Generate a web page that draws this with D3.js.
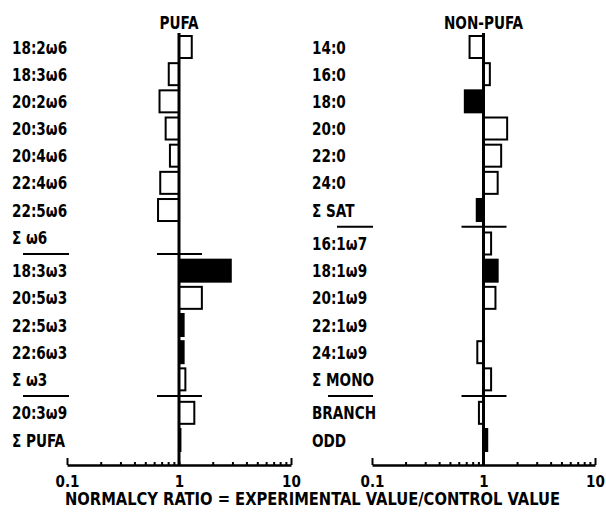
<!DOCTYPE html>
<html>
<head>
<meta charset="utf-8">
<script src="https://cdn.jsdelivr.net/npm/d3@7"></script>
<style>
  body { margin: 0; background: white; }
  svg text { font-family: "DejaVu Sans Condensed", "DejaVu Sans", sans-serif; font-weight: bold; fill: black; }
</style>
</head>
<body>
<div id="chart"></div>
<script>
// PUFA panel
var pufaLabels  = ["18:2ω6", "18:3ω6", "20:2ω6", "20:3ω6", "20:4ω6", "22:4ω6", "22:5ω6", "Σ ω6",
                   "18:3ω3", "20:5ω3", "22:5ω3", "22:6ω3", "Σ ω3", "20:3ω9", "Σ PUFA"];
var pufaValues  = [1.30, 0.81, 0.67, 0.76, 0.83, 0.68, 0.65, 1.0, 2.9, 1.6, 1.1, 1.1, 1.14, 1.37, 1.03];
var pufaFilled  = [0, 0, 0, 0, 0, 0, 0, 0, 1, 0, 1, 1, 0, 0, 1];
var pufaBreaks  = [7, 12];

// NON-PUFA panel
var nonPufaLabels = ["14:0", "16:0", "18:0", "20:0", "22:0", "24:0", "Σ SAT",
                     "16:1ω7", "18:1ω9", "20:1ω9", "22:1ω9", "24:1ω9", "Σ MONO", "BRANCH", "ODD"];
var nonPufaValues = [0.75, 1.14, 0.68, 1.63, 1.44, 1.34, 0.87, 1.17, 1.34, 1.28, 1.0, 0.88, 1.17, 0.91, 1.08];
var nonPufaFilled = [0, 0, 1, 0, 0, 0, 1, 0, 1, 0, 0, 0, 0, 0, 1];
var nonPufaBreaks = [6, 12];

var tickValues = [0.1, 0.2, 0.3, 0.4, 0.5, 0.6, 0.7, 0.8, 0.9, 1, 2, 3, 4, 5, 6, 7, 8, 9, 10];
var tickLabels = [0.1, 1, 10];
var xTitle = "NORMALCY RATIO = EXPERIMENTAL VALUE/CONTROL VALUE";

var svg = d3.select("#chart")
  .append("svg")
  .attr("width", 606)
  .attr("height", 512);

// slot = row index plus a little room for each separator above it
var breakGap = 0.232;
function slotOf(i, breaks) {
  return i + breakGap * breaks.filter(function(b) { return b < i; }).length;
}

var y = d3.scaleLinear()
  .domain([0, 14 + 2 * breakGap])
  .range([47, 440]);

var barH = 22;
var axisY = 465;
var squeeze = 0.84;   // the plotter lettering is narrower than the installed fonts

function narrow(sel) {
  sel.each(function() {
    var w = this.getComputedTextLength();
    d3.select(this)
      .attr("textLength", w * squeeze)
      .attr("lengthAdjust", "spacingAndGlyphs");
  });
}

function makePanel(cfg) {
  var x = d3.scaleLog().domain([0.1, 10]).range([cfg.x0, cfg.x1]);
  var g = svg.append("g");
  var rows = cfg.labels.map(function(d, i) {
    return { label: d, value: cfg.values[i], filled: cfg.filled[i], slot: slotOf(i, cfg.breaks) };
  });

  // Panel title
  g.append("text")
    .attr("x", x(1))
    .attr("y", 29)
    .attr("font-size", 18)
    .attr("text-anchor", "middle")
    .text(cfg.title)
    .call(narrow);

  // Row labels
  g.selectAll("text.label")
    .data(rows)
    .enter()
    .append("text")
    .attr("class", "label")
    .attr("x", cfg.labelX)
    .attr("y", function(d) { return y(d.slot) + 6.5; })
    .attr("font-size", 18)
    .text(function(d) { return d.label; })
    .call(narrow);

  // Bars
  g.selectAll("rect")
    .data(rows)
    .enter()
    .append("rect")
    .attr("x", function(d) { return Math.min(x(1), x(d.value)); })
    .attr("y", function(d) { return y(d.slot) - barH / 2; })
    .attr("width", function(d) { return Math.abs(x(d.value) - x(1)); })
    .attr("height", barH)
    .style("fill", function(d) { return d.filled ? "black" : "white"; })
    .style("stroke", "black")
    .style("stroke-width", "2px");

  // Separators between groups
  var seps = cfg.breaks.map(function(b, k) {
    return { y: (y(slotOf(b, cfg.breaks)) + y(slotOf(b + 1, cfg.breaks))) / 2, lx: cfg.sepStart[k] };
  });
  g.selectAll("line.seplabel")
    .data(seps)
    .enter()
    .append("line")
    .attr("class", "seplabel")
    .attr("x1", function(d) { return cfg.labelX + d.lx; })
    .attr("x2", cfg.labelX + cfg.sepEnd)
    .attr("y1", function(d) { return d.y; })
    .attr("y2", function(d) { return d.y; })
    .style("stroke", "black")
    .style("stroke-width", "2px");
  g.selectAll("line.sepaxis")
    .data(seps)
    .enter()
    .append("line")
    .attr("class", "sepaxis")
    .attr("x1", x(1) - 22)
    .attr("x2", x(1) + 23)
    .attr("y1", function(d) { return d.y; })
    .attr("y2", function(d) { return d.y; })
    .style("stroke", "black")
    .style("stroke-width", "2px");

  // Bottom log axis, ticks pointing up
  var axis = d3.axisBottom(x)
    .tickValues(tickValues)
    .tickSizeInner(-3)
    .tickSizeOuter(0)
    .tickPadding(11)
    .tickFormat(function(d) { return tickLabels.indexOf(d) >= 0 ? String(d) : ""; });
  var ax = g.append("g")
    .attr("transform", "translate(0," + axisY + ")")
    .call(axis);
  ax.select(".domain").style("stroke", "black").style("stroke-width", "2.5px");
  ax.selectAll(".tick line")
    .style("stroke", "black")
    .style("stroke-width", "2px")
    .attr("y2", function(d) { return (d === 0.1 || d === 10) ? -7 : -3; });
  ax.selectAll(".tick text")
    .attr("font-size", 15)
    .attr("font-family", null)
    .style("fill", "black");

  // Vertical line at ratio 1
  g.append("line")
    .attr("x1", x(1))
    .attr("x2", x(1))
    .attr("y1", 33)
    .attr("y2", axisY)
    .style("stroke", "black")
    .style("stroke-width", "3px");
}

makePanel({ title: "PUFA", labels: pufaLabels, values: pufaValues, filled: pufaFilled, breaks: pufaBreaks,
            x0: 67, x1: 291, labelX: 12, sepStart: [11, 11], sepEnd: 57 });
makePanel({ title: "NON-PUFA", labels: nonPufaLabels, values: nonPufaValues, filled: nonPufaFilled, breaks: nonPufaBreaks,
            x0: 372, x1: 595, labelX: 312, sepStart: [25, 16], sepEnd: 61 });

// Shared x title
svg.append("text")
  .attr("x", 65)
  .attr("y", 505)
  .attr("font-size", 17)
  .attr("textLength", 495)
  .attr("lengthAdjust", "spacingAndGlyphs")
  .text(xTitle);
</script>
</body>
</html>
